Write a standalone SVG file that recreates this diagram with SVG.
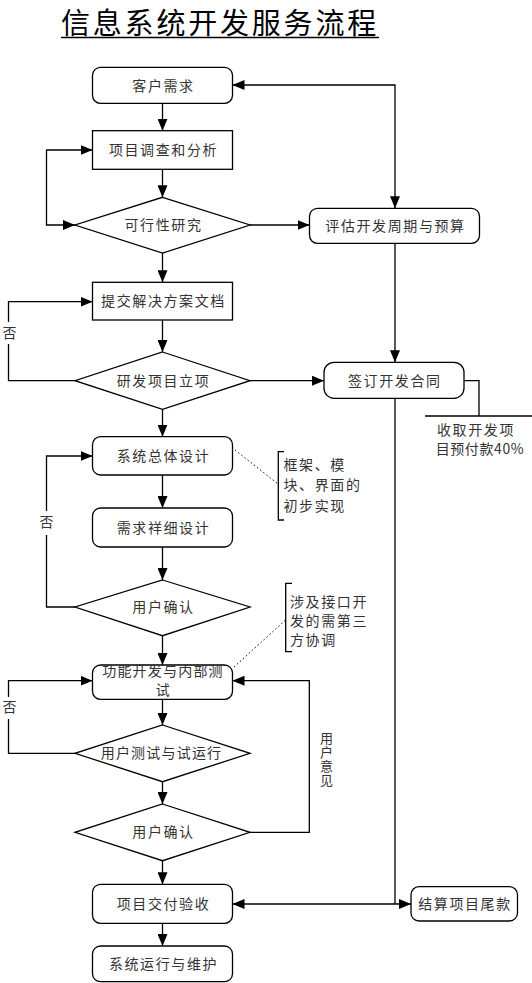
<svg xmlns="http://www.w3.org/2000/svg" width="532" height="983" viewBox="0 0 532 983">
<style>
  .box{fill:#fff;stroke:#000;stroke-width:1.3}
  .ln{fill:none;stroke:#000;stroke-width:1.3}
  .dot{fill:none;stroke:#000;stroke-width:1;stroke-dasharray:1.5 2.5}
  .t{font-family:"Noto Sans CJK SC","Liberation Sans",sans-serif;font-size:14px;letter-spacing:1.6px;fill:#333;text-anchor:middle}
  .v{font-family:"Noto Sans CJK SC","Liberation Sans",sans-serif;font-size:13px;letter-spacing:1px;fill:#333;writing-mode:vertical-rl}
  .a{font-family:"Noto Sans CJK SC","Liberation Sans",sans-serif;font-size:14px;letter-spacing:1.6px;fill:#333}
  .title{font-family:"Noto Sans CJK SC","Liberation Sans",sans-serif;font-size:29px;letter-spacing:2.8px;fill:#000}
</style>
<defs>
  <marker id="ah" markerUnits="userSpaceOnUse" markerWidth="12" markerHeight="10" viewBox="0 0 12 10" refX="12" refY="5" orient="auto-start-reverse">
    <path d="M0,0 L12,5 L0,10 Z" fill="#000"/>
  </marker>
</defs>
<rect width="532" height="983" fill="#fff"/>
<g id="title">
  <text class="title" x="61" y="34">信息系统开发服务流程</text>
  <line x1="61" y1="37.5" x2="379" y2="37.5" stroke="#000" stroke-width="1.4"/>
</g>
<g id="connectors">
  <line class="ln" x1="162.5" y1="103.3" x2="162.5" y2="130.7" marker-end="url(#ah)"/>
  <line class="ln" x1="162.5" y1="169.3" x2="162.5" y2="197.3" marker-end="url(#ah)"/>
  <polyline class="ln" points="75,225 46.5,225 46.5,150 92.5,150" marker-start="url(#ah)" marker-end="url(#ah)"/>
  <line class="ln" x1="250" y1="225" x2="309.5" y2="225" marker-end="url(#ah)"/>
  <polyline class="ln" points="232.5,85 395,85 395,208.3" marker-start="url(#ah)" marker-end="url(#ah)"/>
  <line class="ln" x1="162.5" y1="253" x2="162.5" y2="282.3" marker-end="url(#ah)"/>
  <line class="ln" x1="162.5" y1="320" x2="162.5" y2="352" marker-end="url(#ah)"/>
  <polyline class="ln" points="75,380.7 8.5,380.7 8.5,301.7 92.5,301.7" marker-end="url(#ah)"/>
  <line class="ln" x1="250" y1="380.7" x2="324" y2="380.7" marker-end="url(#ah)"/>
  <line class="ln" x1="395" y1="243.3" x2="395" y2="362.3" marker-end="url(#ah)"/>
  <polyline class="ln" points="464,380.7 479,380.7 479,416"/>
  <line class="ln" x1="425" y1="416" x2="532" y2="416"/>
  <line class="ln" x1="162.5" y1="409.3" x2="162.5" y2="436.7" marker-end="url(#ah)"/>
  <line class="ln" x1="162.5" y1="475" x2="162.5" y2="508" marker-end="url(#ah)"/>
  <line class="ln" x1="162.5" y1="547" x2="162.5" y2="580" marker-end="url(#ah)"/>
  <polyline class="ln" points="75,607 46.5,607 46.5,456 92.5,456" marker-end="url(#ah)"/>
  <line class="ln" x1="162.5" y1="635.7" x2="162.5" y2="665" marker-end="url(#ah)"/>
  <line class="ln" x1="162.5" y1="699.3" x2="162.5" y2="725" marker-end="url(#ah)"/>
  <polyline class="ln" points="75,753.3 8.5,753.3 8.5,680.7 92.5,680.7" marker-end="url(#ah)"/>
  <line class="ln" x1="162.5" y1="781.7" x2="162.5" y2="804" marker-end="url(#ah)"/>
  <polyline class="ln" points="250,832.3 309.3,832.3 309.3,680.7 232.5,680.7" marker-end="url(#ah)"/>
  <line class="ln" x1="162.5" y1="860.7" x2="162.5" y2="884.3" marker-end="url(#ah)"/>
  <line class="ln" x1="162.5" y1="923.3" x2="162.5" y2="946" marker-end="url(#ah)"/>
  <line class="ln" x1="395" y1="398.3" x2="395" y2="904"/>
  <line class="ln" x1="232.5" y1="904" x2="411" y2="904" marker-start="url(#ah)" marker-end="url(#ah)"/>
  <line class="dot" x1="235" y1="450" x2="278" y2="484"/>
  <line class="dot" x1="234" y1="667" x2="285.5" y2="620"/>
</g>
<g id="labels">
  <rect x="1" y="322" width="15" height="22" fill="#fff"/>
  <text class="t" x="9.5" y="338" style="letter-spacing:0">否</text>
  <rect x="39" y="511" width="15" height="24" fill="#fff"/>
  <text class="t" x="46.5" y="527" style="letter-spacing:0">否</text>
  <rect x="1" y="697" width="15" height="22" fill="#fff"/>
  <text class="t" x="9.5" y="712" style="letter-spacing:0">否</text>
  <text class="v" x="326.5" y="732">用户意见</text>
</g>
<g id="n1"><rect class="box" x="92.5" y="67.3" width="140" height="36" rx="8"/><text class="t" x="163.5" y="91">客户需求</text></g>
<g id="n2"><rect class="box" x="92.5" y="130.7" width="140" height="38.6"/><text class="t" x="163.5" y="155">项目调查和分析</text></g>
<g id="n3"><polygon class="box" points="162.5,197.3 250,225 162.5,253 75,225"/><text class="t" x="163.5" y="230">可行性研究</text></g>
<g id="n4"><rect class="box" x="309.5" y="208.3" width="170" height="35" rx="8"/><text class="t" x="395.5" y="231">评估开发周期与预算</text></g>
<g id="n5"><rect class="box" x="92.5" y="282.3" width="140" height="37.7"/><text class="t" x="163.5" y="306">提交解决方案文档</text></g>
<g id="n6"><polygon class="box" points="162.5,352 250,380.7 162.5,409.3 75,380.7"/><text class="t" x="163.5" y="386">研发项目立项</text></g>
<g id="n7"><rect class="box" x="324" y="362.3" width="140" height="36" rx="10"/><text class="t" x="394.8" y="386">签订开发合同</text></g>
<g id="n8">
  <text class="t" x="476" y="435">收取开发项</text>
  <text class="t" x="480" y="454" style="letter-spacing:0.6px">目预付款40%</text>
</g>
<g id="n9"><rect class="box" x="92.5" y="436.7" width="140" height="38.3" rx="8"/><text class="t" x="163.5" y="461">系统总体设计</text></g>
<g id="n10">
  <polyline class="ln" points="284,451.7 278.3,451.7 278.3,520 284,520"/>
  <text class="a" x="283.5" y="470">框架、模</text>
  <text class="a" x="283.5" y="490">块、界面的</text>
  <text class="a" x="283.5" y="511">初步实现</text>
</g>
<g id="n11"><rect class="box" x="92.5" y="508" width="140" height="39" rx="8"/><text class="t" x="163.5" y="533">需求祥细设计</text></g>
<g id="n12"><polygon class="box" points="162.5,580 250,607 162.5,635.7 75,607"/><text class="t" x="163.5" y="612">用户确认</text></g>
<g id="n13">
  <polyline class="ln" points="292,583.3 285.7,583.3 285.7,651.7 292,651.7"/>
  <text class="a" x="290" y="607">涉及接口开</text>
  <text class="a" x="290" y="626">发的需第三</text>
  <text class="a" x="290" y="645">方协调</text>
</g>
<g id="n14"><rect class="box" x="92.5" y="665" width="140" height="34.3" rx="8"/><text class="t" x="163" y="676" style="letter-spacing:1.2px">功能开发与内部测</text><text class="t" x="163.5" y="695">试</text></g>
<g id="n15"><polygon class="box" points="162.5,725 250,753.3 162.5,781.7 75,753.3"/><text class="t" x="161.5" y="758" style="letter-spacing:1.2px">用户测试与试运行</text></g>
<g id="n16"><polygon class="box" points="162.5,804 250,832.3 162.5,860.7 75,832.3"/><text class="t" x="163.5" y="837">用户确认</text></g>
<g id="n17"><rect class="box" x="92.5" y="884.3" width="140" height="39" rx="8"/><text class="t" x="163.5" y="909">项目交付验收</text></g>
<g id="n18"><rect class="box" x="411" y="886.7" width="106.5" height="34.3" rx="8"/><text class="t" x="465" y="909">结算项目尾款</text></g>
<g id="n19"><rect class="box" x="92.5" y="946" width="140" height="35.7" rx="8"/><text class="t" x="163.5" y="969">系统运行与维护</text></g>
</svg>
